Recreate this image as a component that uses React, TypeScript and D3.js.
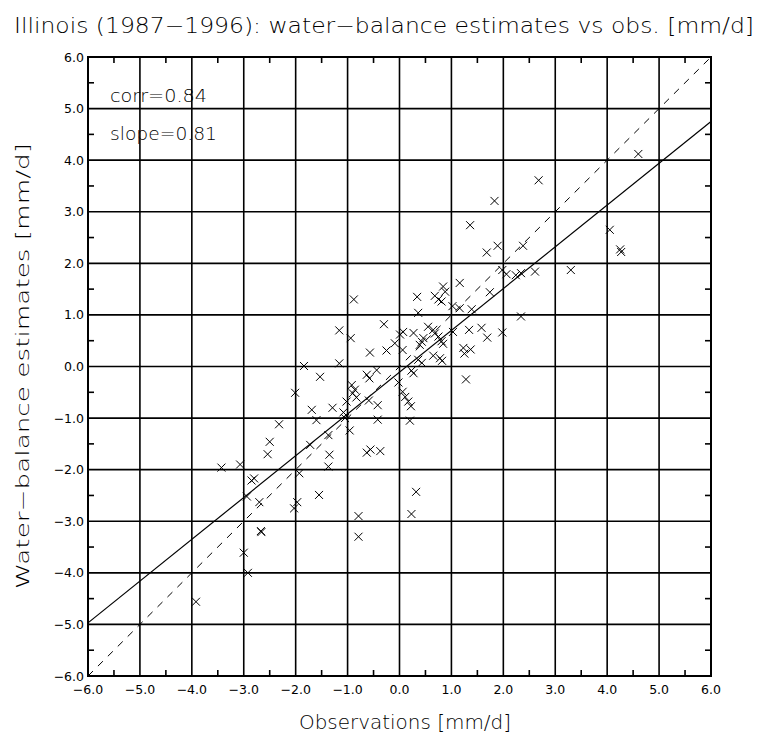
import React from "react";
import * as d3 from "d3";

const obsX: number[] = [
  4.60, 2.68, 1.83, 1.36, 1.89, 2.38, 1.68, 4.05, 4.25, 4.27,
  1.98, 2.06, 2.24, 2.34, 2.61, 3.30, 1.16, 1.74, 1.39, 2.34,
  1.34, 1.58, 1.69, 1.98, 0.84, 0.88, 0.34, 0.68, 0.75, 0.81,
  1.02, 1.16, 0.36, -0.30, 0.55, 0.65, 0.68, 1.03, 0.07, 0.01,
  0.27, -0.09, -0.25, 0.06, 0.46, 0.43, 0.39, 0.75, 0.81, 0.84,
  1.23, 1.37, 1.25, 0.36, 0.43, 0.65, 0.78, 0.82, 1.28, -0.02,
  0.06, 0.11, 0.17, 0.22, 0.20, 0.23, 0.27, -0.88, -1.16, -0.94,
  -0.57, -1.84, -1.16, -1.53, -0.44, -0.63, -0.58, -0.92, -0.86, -0.90,
  -0.83, -0.59, -0.42, -1.02, -1.29, -1.69, -1.08, -1.60, -1.05, -0.42,
  -0.96, -1.37, -1.72, -1.35, -1.37, -0.63, -0.56, -0.37, -2.01, -2.32,
  -2.50, -2.54, -3.43, -3.07, -1.93, -2.85, -2.80, -2.94, -2.70, -1.55,
  -1.97, -2.03, -2.67, -2.66, -3.00, -2.92, -3.92, -0.79, -0.79, 0.32,
  0.23,
];
const estY: number[] = [
  4.12, 3.61, 3.21, 2.74, 2.34, 2.34, 2.21, 2.65, 2.27, 2.22,
  1.87, 1.79, 1.77, 1.81, 1.84, 1.87, 1.62, 1.44, 1.11, 0.97,
  0.71, 0.75, 0.56, 0.66, 1.55, 1.45, 1.35, 1.37, 1.30, 1.26,
  1.17, 1.13, 1.04, 0.82, 0.77, 0.71, 0.64, 0.67, 0.67, 0.62,
  0.65, 0.45, 0.31, 0.32, 0.55, 0.48, 0.42, 0.58, 0.49, 0.44,
  0.36, 0.33, 0.25, 0.13, 0.07, 0.21, 0.16, 0.11, -0.25, -0.31,
  -0.49, -0.59, -0.68, -0.77, -1.05, -0.08, -0.13, 1.30, 0.70, 0.55,
  0.27, 0.01, 0.06, -0.20, -0.07, -0.16, -0.23, -0.36, -0.45, -0.52,
  -0.60, -0.66, -0.75, -0.68, -0.80, -0.84, -0.89, -1.04, -1.00, -1.03,
  -1.24, -1.33, -1.52, -1.71, -1.94, -1.67, -1.61, -1.64, -0.51, -1.12,
  -1.46, -1.70, -1.96, -1.90, -2.07, -2.21, -2.17, -2.52, -2.63, -2.49,
  -2.63, -2.75, -3.19, -3.21, -3.61, -4.00, -4.56, -2.90, -3.30, -2.43,
  -2.86,
];

const majorTicks: number[] = [-6, -5, -4, -3, -2, -1, 0, 1, 2, 3, 4, 5, 6];
const minorTicks: number[] = [-5.5, -4.5, -3.5, -2.5, -1.5, -0.5, 0.5, 1.5, 2.5, 3.5, 4.5, 5.5];
const fitSlope = 0.81;
const fitIntercept = -0.11;
const corrLabel = "corr=0.84";
const slopeLabel = "slope=0.81";
const titleText = "Illinois (1987\u22121996): water\u2212balance estimates vs obs. [mm/d]";
const xLabelText = "Observations [mm/d]";
const yLabelText = "Water\u2212balance estimates [mm/d]";

const fmt = (v: number) => (v < 0 ? "\u2212" : "") + Math.abs(v).toFixed(1);

export default function App() {
  const W = 766, H = 740;
  const L = 88, R = 711, T = 57, B = 676;
  const x = d3.scaleLinear().domain([-6, 6]).range([L, R]);
  const y = d3.scaleLinear().domain([-6, 6]).range([B, T]);
  const font = "'DejaVu Sans', sans-serif";
  const fw = 200;
  const line = d3.line<[number, number]>().x(d => x(d[0])).y(d => y(d[1]));
  const fitPts: [number, number][] = [-6, 6].map(v => [v, fitSlope * v + fitIntercept]);
  const onePts: [number, number][] = [[-6, -6], [6, 6]];
  const s = 4;
  return (
    <svg width={W} height={H} style={{ position: "absolute", left: 0, top: 0, background: "#fff" }}>
      <rect x={0} y={0} width={W} height={H} fill="#fff" />
      <text x={14} y={33} fontFamily={font} fontWeight={fw} fontSize={22} textLength={740} lengthAdjust="spacingAndGlyphs" fill="#000">{titleText}</text>
      {majorTicks.map(v => (
        <g key={"g" + v}>
          <line x1={x(v)} x2={x(v)} y1={T} y2={B} stroke="#000" strokeWidth={1.6} />
          <line x1={L} x2={R} y1={y(v)} y2={y(v)} stroke="#000" strokeWidth={1.6} />
        </g>
      ))}
      {minorTicks.map(v => (
        <g key={"m" + v}>
          <line x1={x(v)} x2={x(v)} y1={T} y2={T + 6} stroke="#000" strokeWidth={1.6} />
          <line x1={x(v)} x2={x(v)} y1={B} y2={B - 6} stroke="#000" strokeWidth={1.6} />
          <line x1={L} x2={L + 6} y1={y(v)} y2={y(v)} stroke="#000" strokeWidth={1.6} />
          <line x1={R} x2={R - 6} y1={y(v)} y2={y(v)} stroke="#000" strokeWidth={1.6} />
        </g>
      ))}
      <rect x={L} y={T} width={R - L} height={B - T} fill="none" stroke="#000" strokeWidth={2} />
      {majorTicks.map(v => (
        <g key={"l" + v}>
          <text x={x(v)} y={694} textAnchor="middle" fontFamily={font} fontSize={12.5} fill="#000">{fmt(v)}</text>
          <text x={84} y={y(v) + 4.5} textAnchor="end" fontFamily={font} fontSize={12.5} fill="#000">{fmt(v)}</text>
        </g>
      ))}
      <path d={line(onePts) || ""} fill="none" stroke="#000" strokeWidth={1} strokeDasharray="7,7" />
      <path d={line(fitPts) || ""} fill="none" stroke="#000" strokeWidth={1.2} />
      {obsX.map((v, i) => {
        const cx = x(v), cy = y(estY[i]);
        return (
          <path key={"p" + i} d={`M${cx - s},${cy - s}L${cx + s},${cy + s}M${cx - s},${cy + s}L${cx + s},${cy - s}`} stroke="#000" strokeWidth={1} fill="none" />
        );
      })}
      <text x={110} y={102} fontFamily={font} fontWeight={fw} fontSize={18} textLength={97} lengthAdjust="spacingAndGlyphs" fill="#000">{corrLabel}</text>
      <text x={110} y={140} fontFamily={font} fontWeight={fw} fontSize={18} textLength={107} lengthAdjust="spacingAndGlyphs" fill="#000">{slopeLabel}</text>
      <text x={405} y={729} textAnchor="middle" fontFamily={font} fontWeight={fw} fontSize={19} textLength={212} lengthAdjust="spacingAndGlyphs" fill="#000">{xLabelText}</text>
      <text transform={`translate(29,${366}) rotate(-90)`} textAnchor="middle" fontFamily={font} fontWeight={fw} fontSize={18} textLength={446} lengthAdjust="spacingAndGlyphs" fill="#000">{yLabelText}</text>
    </svg>
  );
}
